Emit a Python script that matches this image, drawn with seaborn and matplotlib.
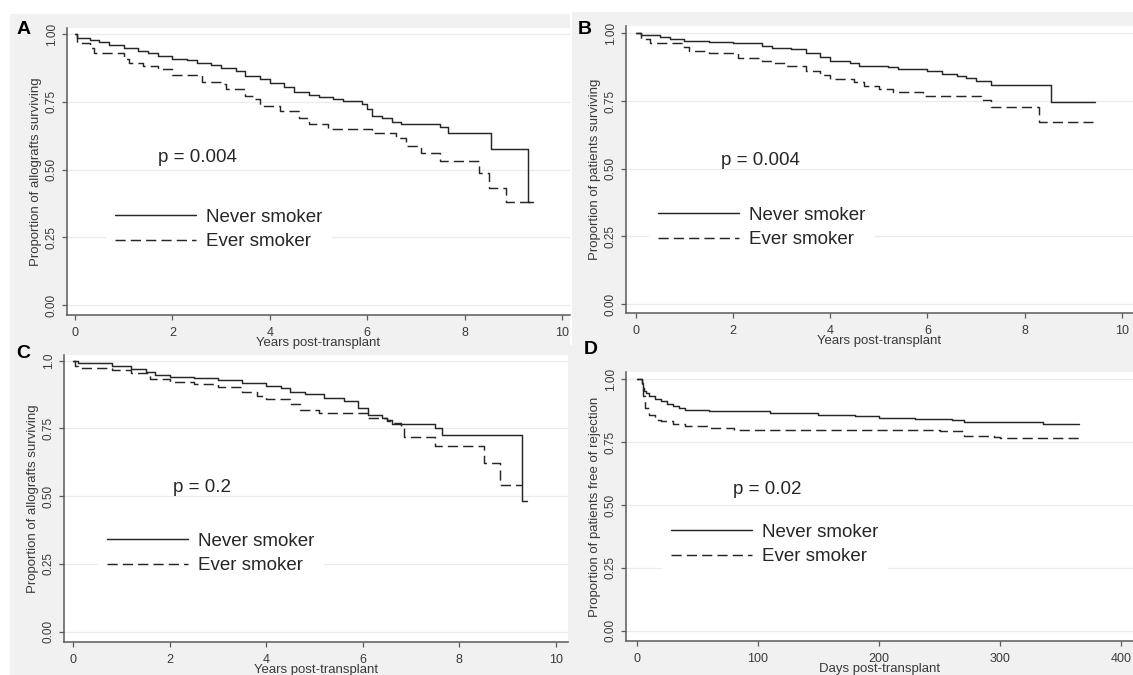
import pandas as pd
import seaborn as sns
import matplotlib.pyplot as plt
from matplotlib.patches import Rectangle

# ---- data (Kaplan-Meier step points) ----
groups = ["Never smoker", "Ever smoker"]

a_never_t = [0, 0.05, 0.3, 0.5, 0.7, 1.0, 1.3, 1.5, 1.7, 2.0, 2.3, 2.5, 2.8, 3.0, 3.3, 3.5, 3.8, 4.0,
             4.3, 4.5, 4.8, 5.0, 5.3, 5.5, 5.9, 6.0, 6.1, 6.3, 6.5, 6.7, 7.5, 7.65, 8.55, 9.3, 9.4]
a_never_s = [1.0, 0.985, 0.978, 0.972, 0.962, 0.948, 0.938, 0.93, 0.918, 0.908, 0.903, 0.895, 0.887, 0.877,
             0.866, 0.846, 0.834, 0.82, 0.806, 0.787, 0.777, 0.768, 0.76, 0.754, 0.743, 0.725, 0.698, 0.69,
             0.677, 0.67, 0.656, 0.637, 0.575, 0.382, 0.382]
a_ever_t = [0, 0.05, 0.3, 0.4, 1.0, 1.1, 1.4, 1.7, 2.0, 2.6, 3.0, 3.1, 3.5, 3.7, 3.8, 4.2, 4.6, 4.8, 5.2,
            6.1, 6.6, 6.8, 7.1, 7.5, 8.3, 8.5, 8.85, 9.4]
a_ever_s = [1.0, 0.969, 0.95, 0.932, 0.908, 0.893, 0.883, 0.871, 0.849, 0.825, 0.815, 0.797, 0.772, 0.76,
            0.736, 0.717, 0.692, 0.667, 0.649, 0.637, 0.618, 0.587, 0.56, 0.533, 0.486, 0.433, 0.382, 0.382]

b_never_t = [0, 0.1, 0.5, 0.7, 1.0, 1.5, 2.0, 2.6, 2.8, 3.2, 3.5, 3.8, 4.0, 4.4, 4.6, 5.2, 5.4, 6.0, 6.3,
             6.6, 6.8, 7.0, 7.3, 8.55, 9.45]
b_never_s = [1.0, 0.994, 0.985, 0.978, 0.973, 0.969, 0.963, 0.953, 0.947, 0.941, 0.926, 0.911, 0.899, 0.892,
             0.879, 0.874, 0.867, 0.86, 0.85, 0.843, 0.835, 0.824, 0.808, 0.745, 0.745]
b_ever_t = [0, 0.1, 0.3, 1.0, 1.1, 1.5, 2.1, 2.6, 2.8, 3.1, 3.5, 3.8, 4.0, 4.5, 4.7, 5.0, 5.3, 5.9, 7.1,
            7.3, 8.3, 9.4]
b_ever_s = [1.0, 0.978, 0.966, 0.951, 0.935, 0.926, 0.91, 0.898, 0.892, 0.879, 0.862, 0.846, 0.832, 0.822,
            0.806, 0.793, 0.782, 0.769, 0.754, 0.727, 0.674, 0.674]

c_never_t = [0, 0.1, 0.8, 1.2, 1.5, 1.7, 2.0, 2.5, 3.0, 3.5, 4.0, 4.3, 4.5, 4.8, 5.2, 5.6, 5.9, 6.1, 6.4,
             6.5, 6.6, 7.5, 7.65, 9.3, 9.4]
c_never_s = [1.0, 0.99, 0.98, 0.968, 0.958, 0.947, 0.941, 0.935, 0.929, 0.919, 0.906, 0.898, 0.886, 0.877,
             0.864, 0.851, 0.824, 0.80, 0.79, 0.781, 0.766, 0.75, 0.725, 0.483, 0.483]
c_ever_t = [0, 0.03, 0.1, 0.8, 1.2, 1.6, 2.0, 2.5, 3.0, 3.5, 3.8, 4.0, 4.5, 4.7, 5.1, 6.1, 6.5, 6.6, 6.8,
            6.85, 7.5, 8.5, 8.85, 9.3]
c_ever_s = [1.0, 0.98, 0.972, 0.966, 0.953, 0.931, 0.923, 0.914, 0.904, 0.886, 0.87, 0.857, 0.84, 0.818,
            0.806, 0.787, 0.779, 0.769, 0.75, 0.72, 0.685, 0.621, 0.541, 0.541]

d_never_t = [0, 4, 5, 6, 8, 10, 15, 20, 25, 30, 35, 40, 60, 110, 150, 180, 200, 230, 260, 270, 335, 365]
d_never_s = [1.0, 0.984, 0.965, 0.952, 0.944, 0.934, 0.92, 0.911, 0.902, 0.894, 0.887, 0.878, 0.874, 0.865,
             0.858, 0.852, 0.845, 0.841, 0.836, 0.829, 0.823, 0.823]
d_ever_t = [0, 4, 5, 7, 10, 15, 20, 30, 40, 60, 80, 150, 250, 270, 295, 300, 365]
d_ever_s = [1.0, 0.96, 0.931, 0.885, 0.858, 0.838, 0.832, 0.823, 0.812, 0.805, 0.799, 0.796, 0.792, 0.775,
            0.77, 0.764, 0.764]

year_ticks = [0, 2, 4, 6, 8, 10]
day_ticks = [0, 100, 200, 300, 400]
surv_ticks = [0, 0.25, 0.5, 0.75, 1.0]
surv_labels = ["0.00", "0.25", "0.50", "0.75", "1.00"]
surv_labels_c = ["0.00", "0.25", "0.50", "0.75", "1.0"]

W, H = 1133, 675
sns.set_theme(style="white")
plt.rcParams['font.family'] = ['Liberation Sans', 'DejaVu Sans']

fig = plt.figure(figsize=(W / 100, H / 100), dpi=100, facecolor="white")


def px_rect(x0, y0, x1, y1):
    # pixel box (top-left origin) -> figure fraction rect
    return [x0 / W, 1 - y1 / H, (x1 - x0) / W, (y1 - y0) / H]


# grey panel backgrounds
for x0, y0, x1, y1 in [(10, 14, 570, 345), (572, 12, 1133, 345), (10, 345, 568, 675), (568, 345, 1133, 675)]:
    r = px_rect(x0, y0, x1, y1)
    fig.add_artist(Rectangle((r[0], r[1]), r[2], r[3], transform=fig.transFigure,
                             facecolor="#f1f1f1", edgecolor="none", zorder=-10))

panels = [
    dict(letter="A", box=(67, 28, 570, 315), xlim=(-0.164, 10.164), ylim=(-0.037, 1.023),
         never=(a_never_t, a_never_s), ever=(a_ever_t, a_ever_s), xticks=year_ticks, ylabels=surv_labels,
         ylabel="Proportion of allografts surviving", xlabel="Years post-transplant",
         p="p = 0.004", p_pos=(158, 157), leg=(115, 215), letter_pos=(17, 30)),
    dict(letter="B", box=(626, 26, 1133, 313), xlim=(-0.2, 10.23), ylim=(-0.033, 1.027),
         never=(b_never_t, b_never_s), ever=(b_ever_t, b_ever_s), xticks=year_ticks, ylabels=surv_labels,
         ylabel="Proportion of patients surviving", xlabel="Years post-transplant",
         p="p = 0.004", p_pos=(721, 160), leg=(658, 213), letter_pos=(578, 30)),
    dict(letter="C", box=(64, 355, 568, 642), xlim=(-0.19, 10.25), ylim=(-0.038, 1.021),
         never=(c_never_t, c_never_s), ever=(c_ever_t, c_ever_s), xticks=year_ticks, ylabels=surv_labels_c,
         ylabel="Proportion of allografts surviving", xlabel="Years post-transplant",
         p="p = 0.2", p_pos=(173, 488), leg=(107, 539), letter_pos=(16, 353)),
    dict(letter="D", box=(626, 372, 1133, 641), xlim=(-8.9, 409.7), ylim=(-0.04, 1.028),
         never=(d_never_t, d_never_s), ever=(d_ever_t, d_ever_s), xticks=day_ticks, ylabels=surv_labels,
         ylabel="Proportion of patients free of rejection", xlabel="Days post-transplant",
         p="p = 0.02", p_pos=(733, 490), leg=(671, 530), letter_pos=(584, 350)),
]

ink = "#262626"
axis_col = "#5a5a5a"
label_col = "#3a3a3a"
fs_big = 13.5

for pnl in panels:
    ax = fig.add_axes(px_rect(*pnl["box"]))
    ax.set_facecolor("white")

    df = pd.concat([
        pd.DataFrame({"time": pnl["never"][0], "surv": pnl["never"][1], "group": groups[0]}),
        pd.DataFrame({"time": pnl["ever"][0], "surv": pnl["ever"][1], "group": groups[1]}),
    ])
    sns.lineplot(data=df, x="time", y="surv", style="group", style_order=groups,
                 dashes={groups[0]: "", groups[1]: (7, 3.5)}, color=ink, linewidth=1.05,
                 drawstyle="steps-post", estimator=None, legend=False, ax=ax)

    ax.set_xlim(*pnl["xlim"])
    ax.set_ylim(*pnl["ylim"])
    ax.set_xticks(pnl["xticks"])
    ax.set_yticks(surv_ticks)
    ax.set_yticklabels(pnl["ylabels"])
    ax.yaxis.grid(True, color="#ebebeb", linewidth=0.9)
    ax.set_axisbelow(True)

    for side in ["top", "right"]:
        ax.spines[side].set_visible(False)
    for side in ["left", "bottom"]:
        ax.spines[side].set_color(axis_col)
        ax.spines[side].set_linewidth(1.1)

    ax.tick_params(axis="both", direction="out", length=3.5, width=0.9, color=axis_col,
                   labelcolor=label_col, bottom=True, left=True)
    ax.tick_params(axis="x", pad=5, labelsize=9)
    ax.tick_params(axis="y", pad=3, labelsize=8.5, labelrotation=90)
    for lab in ax.get_yticklabels():
        lab.set_va("center")

    ax.set_xlabel(pnl["xlabel"], fontsize=9.5, color=label_col, labelpad=-1)
    ax.set_ylabel(pnl["ylabel"], fontsize=9.5, color=label_col, labelpad=3)

    # legend placed by pixel position of its first handle
    x0, y0, x1, y1 = pnl["box"]
    lx, ly = pnl["leg"]
    fs_px = fs_big * 100 / 72
    bp = 0.5
    anchor = ((lx - bp * fs_px - x0) / (x1 - x0), (y1 - (ly - 0.35 * fs_px - bp * fs_px)) / (y1 - y0))
    leg = ax.legend(ax.get_lines()[:2], groups, loc="upper left", bbox_to_anchor=anchor,
                    borderaxespad=0, borderpad=bp, frameon=True, fancybox=False,
                    handlelength=4.3, handletextpad=0.55, labelspacing=0.4,
                    fontsize=fs_big, labelcolor=ink)
    leg.get_frame().set_facecolor("white")
    leg.get_frame().set_edgecolor("none")
    leg.get_frame().set_alpha(1)

    px_, py_ = pnl["p_pos"]
    ax.text((px_ - x0) / (x1 - x0), (y1 - py_) / (y1 - y0), pnl["p"], transform=ax.transAxes,
            fontsize=fs_big, color=ink, ha="left", va="center")

    lx_, ly_ = pnl["letter_pos"]
    fig.text(lx_ / W, 1 - ly_ / H, pnl["letter"], fontsize=14, fontweight="bold",
             color="black", ha="left", va="center")

fig.savefig("out.png", dpi=100, facecolor=fig.get_facecolor())
